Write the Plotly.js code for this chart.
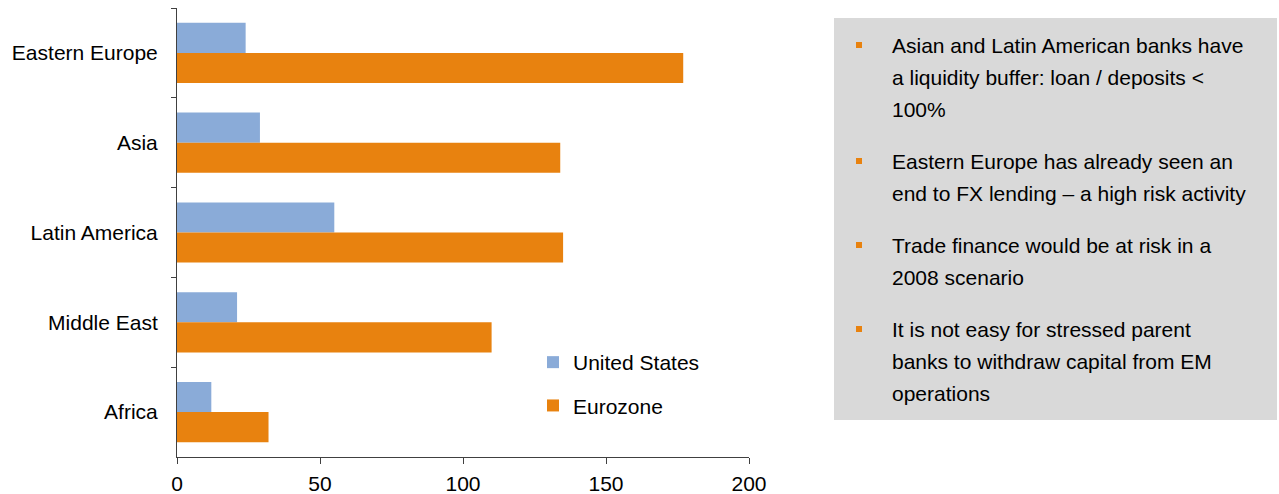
<!DOCTYPE html>
<html>
<head>
<meta charset="utf-8">
<script src="https://cdn.plot.ly/plotly-3.0.1.min.js"></script>
<style>html,body{margin:0;padding:0;background:#fff;}#chart{width:1279px;height:494px;}</style>
</head>
<body>
<div id="chart"></div>
<script>
// ---- data ----
const categories = ['Eastern Europe', 'Asia', 'Latin America', 'Middle East', 'Africa'];
const unitedStates = [24, 29, 55, 21, 12];
const eurozone = [177, 134, 135, 110, 32];
const seriesNames = ['United States', 'Eurozone'];
const xTickValues = [0, 50, 100, 150, 200];
const notes = [
  ['Asian and Latin American banks have', 'a liquidity buffer: loan / deposits <', '100%'],
  ['Eastern Europe has already seen an', 'end to FX lending \u2013 a high risk activity'],
  ['Trade finance would be at risk in a', '2008 scenario'],
  ['It is not easy for stressed parent', 'banks to withdraw capital from EM', 'operations']
];

// ---- layout helpers ----
const W = 1279, H = 494;
const M = {l: 177, r: 530, t: 8, b: 37};
const plotW = W - M.l - M.r, plotH = H - M.t - M.b;
const px = x => (x - M.l) / plotW;
const py = y => (H - M.b - y) / plotH;

const FONT = 'Liberation Sans, Arial, sans-serif';
const FS = 21;
const BLUE = '#8AABD8';
const ORANGE = '#E8820F';

const shapes = [{
  type: 'rect', xref: 'paper', yref: 'paper', layer: 'below',
  x0: px(834), x1: px(1277), y0: py(420), y1: py(18),
  fillcolor: '#D9D9D9', line: {width: 0}
}];
const annotations = [];
let baseline = 53;
notes.forEach((para, i) => {
  if (i > 0) baseline += 20;
  shapes.push({
    type: 'rect', xref: 'paper', yref: 'paper',
    x0: px(856), x1: px(862), y0: py(baseline - 5), y1: py(baseline - 11),
    fillcolor: ORANGE, line: {width: 0}
  });
  para.forEach((line, j) => {
    if (j > 0) baseline += 32;
    annotations.push({
      xref: 'paper', yref: 'paper', x: px(890), y: py(baseline - 7.3),
      xanchor: 'left', yanchor: 'middle', showarrow: false, align: 'left',
      text: line, font: {family: FONT, size: FS, color: '#000'}
    });
  });
  baseline += 32;
});

const traces = [
  {type: 'bar', orientation: 'h', name: seriesNames[0], y: categories, x: unitedStates,
   marker: {color: BLUE}, legendgroup: 'a'},
  {type: 'bar', orientation: 'h', name: seriesNames[1], y: categories, x: eurozone,
   marker: {color: ORANGE}, legendgroup: 'b'}
];

const layout = {
  width: W, height: H,
  margin: M,
  paper_bgcolor: '#fff', plot_bgcolor: '#fff',
  barmode: 'group', bargap: 0.33, bargroupgap: 0,
  font: {family: FONT, size: FS, color: '#000'},
  xaxis: {
    range: [0, 200], tickvals: xTickValues, ticktext: xTickValues.map(String),
    showgrid: false, zeroline: false, showline: true, linecolor: '#404040', linewidth: 1,
    ticks: 'outside', ticklen: 6, tickcolor: '#404040', ticklabelstandoff: 2,
    tickfont: {family: FONT, size: FS, color: '#000'}
  },
  yaxis: {
    type: 'category', range: [4.5, -0.5], categoryorder: 'array', categoryarray: categories,
    showgrid: false, zeroline: false, showline: true, linecolor: '#404040', linewidth: 1,
    ticks: 'outside', ticklen: 5, tickcolor: '#404040', tickson: 'boundaries',
    ticklabelstandoff: 14,
    tickfont: {family: FONT, size: FS, color: '#000'}
  },
  showlegend: true,
  legend: {
    x: px(533), y: py(342), xanchor: 'left', yanchor: 'top',
    bgcolor: 'rgba(0,0,0,0)', traceorder: 'grouped', tracegroupgap: 13,
    font: {family: FONT, size: FS, color: '#000'}
  },
  shapes: shapes,
  annotations: annotations
};

Plotly.newPlot('chart', traces, layout, {staticPlot: true});
</script>
</body>
</html>
